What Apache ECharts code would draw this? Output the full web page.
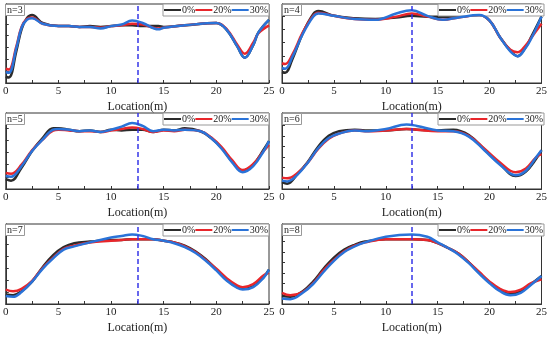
<!DOCTYPE html>
<html><head><meta charset="utf-8">
<script src="https://cdn.jsdelivr.net/npm/echarts@6/dist/echarts.min.js"></script>
<style>html,body{margin:0;padding:0;background:#fff}#c{width:550px;height:337px}</style>
</head><body><div id="c"></div>
<script>
// Data (y in relative units of the panel height, no y labels in the original)
var panelLabels = ['n=3','n=4','n=5','n=6','n=7','n=8'];
var seriesNames = ['0%','20%','30%'];
var xTicks = [0,5,10,15,20,25];

var n3_x  = [0,0.3,1,1.5,2,2.5,3.5,5,6,7,8,9,10,11,12,13,14.5,15,17,20,21,22,22.7,23.5,24,25];
var n3_0  = [8,7,40,68,82,86,76,72,72,71,72,71,72,73,73,72,72,71,73,76,67,46,32,48,64,80];
var n3_20 = [18,17,46,71,81,83,75,72,72,71,71,70,72,73,75,74,69,70,73,76,68,48,37,51,63,73];
var n3_30 = [14,13,44,70,80,82,75,72,72,71,71,69,72,74,79,76,68,70,73,76,67,46,32,48,64,80];

var n4_x  = [0,0.3,1,2,3,3.5,5,7,9,11,12.5,14,15.5,17,19,20,21,22,22.7,23.5,24,25];
var n4_0  = [14,13,30,63,87,91,85,82,81,83,85,84,84,84,86,79,58,41,34,46,58,84];
var n4_20 = [25,24,36,64,85,89,85,81,80,84,88,84,80,83,86,79,58,42,39,48,57,75];
var n4_30 = [19,18,33,62,84,88,85,81,80,88,92,85,80,83,86,79,58,40,34,45,56,84];

var n5_x  = [0,0.5,1.5,2.5,3.5,4.5,5,6,7,8,9,10,11,12,13,14,15,16,17,18.5,19.5,20.5,21.5,22.5,23.5,24.5,25];
var n5_0  = [13,11,28,50,67,80,80,78,76,77,75,78,77,78,78,75,78,77,80,76,67,54,36,24,32,52,63];
var n5_20 = [21,20,32,51,65,77,78,77,76,76,75,77,79,81,79,75,77,76,78,76,68,55,38,25,33,50,58];
var n5_30 = [17,16,30,50,65,78,79,78,76,77,75,78,82,87,83,76,78,77,78,76,67,53,35,22,30,50,63];

var n6_x  = [0,0.5,1.5,2.5,3.5,4.5,5.5,7,8,10,12,13,15,16.5,18,19.5,21,22.5,23.5,24.5,25];
var n6_0  = [9,7,20,36,56,70,76,78,77,77,79,78,77,78,71,52,33,17,23,40,51];
var n6_20 = [15,14,21,35,53,66,73,77,76,77,79,78,76,76,70,53,35,22,27,42,46];
var n6_30 = [11,10,19,35,54,67,73,77,76,79,85,83,77,76,69,51,32,18,24,42,51];

var n7_x  = [0,0.7,1.5,2.5,3.5,4.5,5.5,6.5,8,10,11,12,13,14,15,16,17,18,19,20,21,22,22.5,23.5,24.5,25];
var n7_0  = [12,11,16,28,46,61,71,76,78,80,80,81,81,81,79,77,73,66,56,43,30,21,19,22,34,43];
var n7_20 = [18,16,19,29,45,58,69,73,77,79,80,81,81,81,79,77,72,65,55,44,32,23,21,25,36,39];
var n7_30 = [10,9,15,28,44,57,68,72,77,83,85,87,85,81,79,76,71,64,54,42,29,20,18,21,33,43];

var n8_x  = [0,0.8,2,3,4,5,6,7,8,10,12.5,14,15,16,17,18,19,20,21,22,23,24,25];
var n8_0  = [10,9,16,28,44,58,68,74,78,81,81,80,76,70,63,52,39,27,18,13,16,25,35];
var n8_20 = [14,11,15,26,42,55,66,73,77,81,81,80,76,70,63,52,40,28,19,15,18,26,31];
var n8_30 = [7,6,14,25,40,54,65,72,77,84,87,84,77,70,62,51,38,26,16,11,14,24,35];

var markX = 12.5;
var yIntervals = [15,17,16,14,15,13];

var panels = [
  [n3_x,[n3_0,n3_20,n3_30]],[n4_x,[n4_0,n4_20,n4_30]],
  [n5_x,[n5_0,n5_20,n5_30]],[n6_x,[n6_0,n6_20,n6_30]],
  [n7_x,[n7_0,n7_20,n7_30]],[n8_x,[n8_0,n8_20,n8_30]]
];

var colors = ['#2b2b2b','#e8262b','#2a73d8'];
var font = 'Liberation Serif';
var colL = [5,282], colR = [269,544];
var rowT = [4,113,224], rowB = [83,189,304];

var grid=[],xAxis=[],yAxis=[],series=[],legend=[],title=[];
for (var p=0;p<6;p++){
  var c=p%2, r=Math.floor(p/2);
  grid.push({left:colL[c], top:rowT[r], width:colR[c]-colL[c], height:rowB[r]-rowT[r],
    show:true, borderColor:'#333', borderWidth:1, containLabel:false});
  xAxis.push({gridIndex:p, type:'value', min:0, max:25, interval:5,
    name:'Location(m)', nameLocation:'middle', nameGap:18,
    nameTextStyle:{fontFamily:font,fontSize:12,color:'#222'},
    axisLine:{lineStyle:{color:'#333'}},
    axisTick:{inside:true,length:3,lineStyle:{color:'#333'}},
    minorTick:{show:true,splitNumber:2,length:3,lineStyle:{color:'#333'}},
    axisLabel:{fontFamily:font,fontSize:11,color:'#222',margin:3},
    splitLine:{show:false}});
  yAxis.push({gridIndex:p, type:'value', min:0, max:100, interval:yIntervals[p],
    axisLine:{show:true,lineStyle:{color:'#333'}},
    axisTick:{show:true,inside:true,length:3,lineStyle:{color:'#333'}},
    axisLabel:{show:false}, splitLine:{show:false}});
  var xs=panels[p][0], ys=panels[p][1];
  for (var s=0;s<3;s++){
    var d=xs.map(function(x,i){return [x, ys[s][i]];});
    var ser={name:seriesNames[s], type:'line', xAxisIndex:p, yAxisIndex:p, data:d,
      smooth:0.4, showSymbol:false, symbol:'none', lineStyle:{color:colors[s],width:2.5},
      itemStyle:{color:colors[s]}, z:2+s};
    if (s===2){
      ser.markLine={silent:true, symbol:'none', label:{show:false},
        lineStyle:{color:'#3636e8',type:[5,3],width:1.5}, data:[{xAxis:markX}]};
    }
    series.push(ser);
  }
  legend.push({top:rowT[r], right:550-colR[c], orient:'horizontal',
    data:seriesNames.map(function(n){return {name:n,icon:'rect'};}),
    itemWidth:17, itemHeight:2, itemGap:0, padding:[1,1],
    backgroundColor:'#fff', borderColor:'#999', borderWidth:1, selectedMode:false,
    textStyle:{fontFamily:font,fontSize:10,color:'#222',padding:[0,0,0,-4]}});
  title.push({text:panelLabels[p], left:colL[c], top:rowT[r], padding:[1,2],
    borderColor:'#999', borderWidth:1, backgroundColor:'#fff',
    textStyle:{fontFamily:font,fontSize:10,fontWeight:'normal',color:'#222'}});
}
var chart=echarts.init(document.getElementById('c'),null,{renderer:'canvas'});
chart.setOption({animation:false, backgroundColor:'#fff', title:title, legend:legend,
  grid:grid, xAxis:xAxis, yAxis:yAxis, series:series});
</script></body></html>
